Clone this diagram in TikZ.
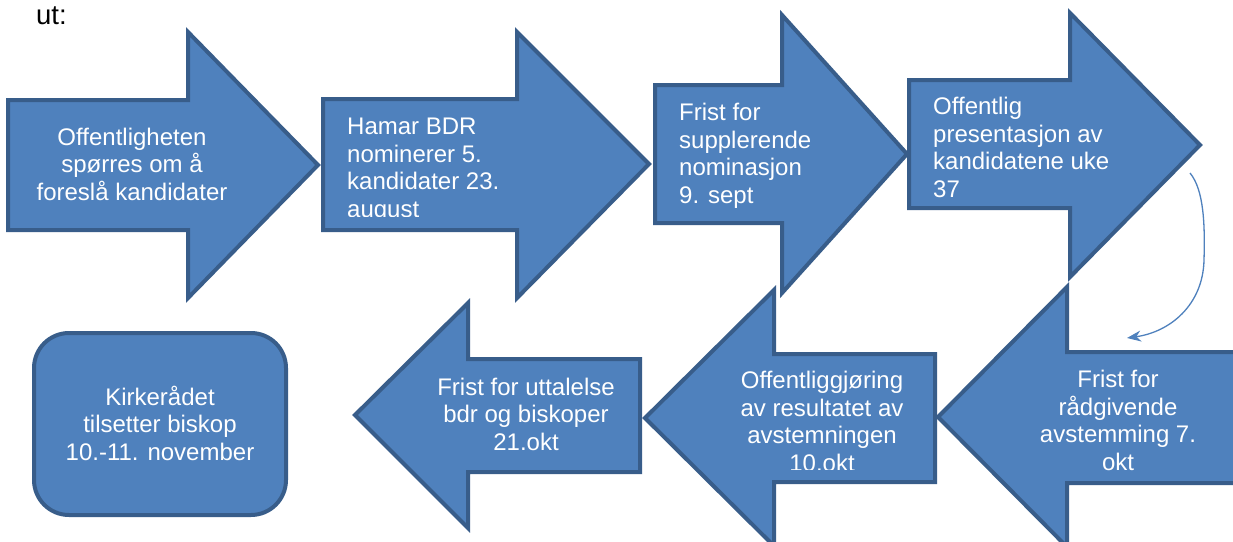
\documentclass[tikz,border=0pt]{standalone}
\usepackage{fontspec}
\setmainfont{Liberation Sans}
\usetikzlibrary{arrows.meta}
\definecolor{boxfill}{HTML}{4F81BD}
\definecolor{boxline}{HTML}{385D8A}
\tikzset{
  shapebox/.style={fill=boxfill, draw=boxline, line width=4pt, line join=miter},
  lbl/.style={text=white, inner sep=0pt, font=\fontsize{24}{27.4}\selectfont},
  plain/.style={text=black, inner sep=0pt, font=\fontsize{27.5}{30}\selectfont},
  link/.style={draw=boxfill, line width=1.3pt, -{Stealth[length=14pt,width=11pt]}}
}
\begin{document}
\begin{tikzpicture}[x=1pt,y=-1pt]
\clip (0,0) rectangle (1233,541);
\fill[white] (0,0) rectangle (1233,541);

\node[plain, anchor=base west] (ut) at (36,24) {ut:};

% top row, pointing right
\draw[shapebox] (8,100) -- (188,100) -- (188,32) -- (318,165) -- (188,298) -- (188,230) -- (8,230) -- cycle;
\draw[shapebox] (323,99) -- (517,99) -- (517,32) -- (649,164) -- (517,298) -- (517,230) -- (323,230) -- cycle;
\draw[shapebox] (655,85) -- (782,85) -- (782,15) -- (907,154) -- (782,293) -- (782,223) -- (655,223) -- cycle;
\draw[shapebox] (909,80) -- (1070,80) -- (1070,13) -- (1200,145) -- (1070,277) -- (1070,208) -- (909,208) -- cycle;

% bottom row, pointing left
\draw[shapebox] (1250,352) -- (1067,352) -- (1067,287) -- (938,417) -- (1067,547) -- (1067,483) -- (1250,483) -- cycle;
\draw[shapebox] (935,354) -- (774,354) -- (774,290) -- (645,418) -- (774,546) -- (774,482) -- (935,482) -- cycle;
\draw[shapebox] (640,359) -- (468,359) -- (468,303) -- (355,415) -- (468,528) -- (468,472) -- (640,472) -- cycle;
\draw[shapebox, rounded corners=35pt] (34,333) rectangle (286,515);

% texts (anchor base = baseline of the last line)
\node[lbl, align=center, anchor=base] (t1) at (132,200) {Offentligheten\\spørres om å\\foreslå kandidater};
\begin{scope}
  \clip (323,99) rectangle (649,216);
  \node[lbl, align=left, anchor=base west] (t2) at (347,217) {Hamar BDR\\nominerer 5.\\kandidater 23.\\august};
\end{scope}
\node[lbl, align=left, anchor=base west] (t3) at (679,203) {Frist for\\supplerende\\nominasjon\\9. sept};
\node[lbl, align=left, anchor=base west] (t4) at (933,197) {Offentlig\\presentasjon av\\kandidatene uke\\37};
\node[lbl, align=center, anchor=base] (t5) at (1118,470) {Frist for\\rådgivende\\avstemming 7.\\okt};
\begin{scope}
  \clip (645,354) rectangle (935,469);
  \node[lbl, align=center, anchor=base] (t7) at (822,471) {Offentliggjøring\\av resultatet av\\avstemningen\\10.okt};
\end{scope}
\node[lbl, align=center, anchor=base] (t6) at (526,450) {Frist for uttalelse\\bdr og biskoper\\21.okt};
\node[lbl, align=center, anchor=base] (t8) at (160,460) {Kirkerådet\\tilsetter biskop\\10.-11. november};

% curved connector
\coordinate (c1) at (1190,173);
\coordinate (c2) at (1127,338);
\draw[link] (c1) .. controls (1204,190) and (1205,225) .. (1204,260) .. controls (1203,305) and (1170,332) .. (c2);
\end{tikzpicture}
\end{document}
